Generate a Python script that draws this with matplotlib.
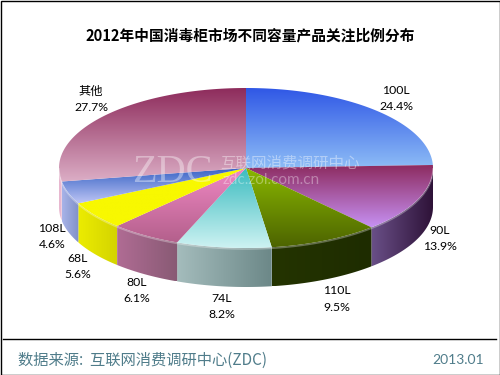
import numpy as np
import matplotlib
matplotlib.use('Agg')
import matplotlib.pyplot as plt
from matplotlib.colors import to_rgb
from matplotlib.patches import PathPatch, Rectangle
from matplotlib.path import Path

plt.rcParams['font.family'] = ['Lato', 'Noto Sans CJK SC', 'DejaVu Sans']

names = ['100L', '90L', '110L', '74L', '80L', '68L', '108L', '其他']
shares = [24.4, 13.9, 9.5, 8.2, 6.1, 5.6, 4.6, 27.7]

# top face gradient (far edge, near edge)
top_colors = [('#3058e6', '#8dbcf6'), ('#8c2a5e', '#c690f2'), ('#8ab800', '#4d6400'),
              ('#3cbcc0', '#cdf2f2'), ('#f088c4', '#b4608c'), ('#f8f800', '#f8f800'),
              ('#3460c4', '#bcc4f4'), ('#8e2c5c', '#dcaec6')]
# side wall gradient (left, right)
side_colors = [('#5a4478', '#3a1a40'), ('#6a5088', '#2e1238'), ('#243400', '#1e2c00'),
               ('#a4bcbc', '#6c8888'), ('#b06c94', '#885a74'), ('#ecec00', '#d4d400'),
               ('#a8b4e8', '#8090c8'), ('#e8b8d0', '#e8b8d0')]

# label centres, pixel position of the name line
label_pos = [(396, 90), (440, 230), (337, 291), (222, 298), (137, 282), (78, 258), (52, 228), (91, 91)]

cx, cy, rx, ry, depth = 246, 168, 187, 80, 39

fig = plt.figure(figsize=(5, 3.75), dpi=100)
ax = fig.add_axes([0, 0, 1, 1])


def rim(a0, a1, dy=0):
    # angles clockwise from top, in degrees
    t = np.radians(np.linspace(a0, a1, 80))
    return np.column_stack([cx + rx * np.sin(t), cy - ry * np.cos(t) + dy])


def grad_fill(pts, c0, c1, horizontal=False):
    n = 128
    f = np.linspace(0, 1, n)[:, None]
    grad = (1 - f) * np.array(to_rgb(c0)) + f * np.array(to_rgb(c1))
    grad = grad[None, :, :] if horizontal else grad[:, None, :]
    x0, y0 = pts.min(axis=0)
    x1, y1 = pts.max(axis=0)
    im = ax.imshow(grad, extent=(x0, x1, y1, y0), origin='upper', aspect='auto',
                   interpolation='bilinear', zorder=2)
    patch = PathPatch(Path(np.vstack([pts, pts[0]]), closed=True), transform=ax.transData,
                      fc='none', ec='none')
    ax.add_patch(patch)
    im.set_clip_path(patch)


edges = np.concatenate([[0], np.cumsum(shares)]) / np.sum(shares) * 360

# side walls, only the front half of the rim shows
for i in range(len(shares)):
    a0, a1 = max(edges[i], 90), min(edges[i + 1], 270)
    if a1 <= a0:
        continue
    pts = np.vstack([rim(a0, a1), rim(a0, a1, depth)[::-1]])
    grad_fill(pts, side_colors[i][0], side_colors[i][1], horizontal=True)

# top faces
for i in range(len(shares)):
    pts = np.vstack([[cx, cy], rim(edges[i], edges[i + 1])])
    grad_fill(pts, top_colors[i][0], top_colors[i][1])

# light rim where the top meets the wall
front = rim(90, 270, 1)
ax.plot(front[:, 0], front[:, 1], color='white', alpha=0.3, lw=1.2, zorder=3)

# watermark
ax.text(172, 172, 'ZDC', family='Liberation Serif', fontsize=29, color='white', alpha=0.38,
        ha='center', va='center', zorder=4)
ax.text(290, 163, '互联网消费调研中心', fontsize=11.2, color='white', alpha=0.4,
        ha='center', va='center', zorder=4)
ax.text(271, 180, 'zdc.zol.com.cn', fontsize=11, color='white', alpha=0.35,
        ha='center', va='center', zorder=4)

# labels
for name, share, (x, y) in zip(names, shares, label_pos):
    ax.text(x, y, name, fontsize=8.8, color='black', ha='center', va='center', zorder=5)
    ax.text(x, y + 16.5, f'{share:.1f}%', fontsize=8.8, color='black', ha='center', va='center', zorder=5)

ax.text(250, 35, '2012年中国消毒柜市场不同容量产品关注比例分布',
        family=['Noto Sans CJK SC', 'DejaVu Sans'], fontsize=10.6, fontweight='bold',
        color='black', ha='center', va='center')

# footer
ax.plot([3, 496], [338.5, 338.5], color='black', lw=1, zorder=5)
ax.text(18, 360, '数据来源:  互联网消费调研中心(ZDC)', fontsize=11, color='#4f7c8a',
        ha='left', va='center', family=['Noto Sans CJK SC', 'DejaVu Sans'], fontweight='light')
ax.text(484, 360, '2013.01', fontsize=10, color='#4f7c8a', ha='right', va='center')

ax.add_patch(Rectangle((0.5, 0.5), 499, 374, fc='none', ec='black', lw=1, zorder=6))

ax.set_xlim(0, 500)
ax.set_ylim(375, 0)
ax.axis('off')

fig.savefig('out.png', dpi=100, facecolor='white')
